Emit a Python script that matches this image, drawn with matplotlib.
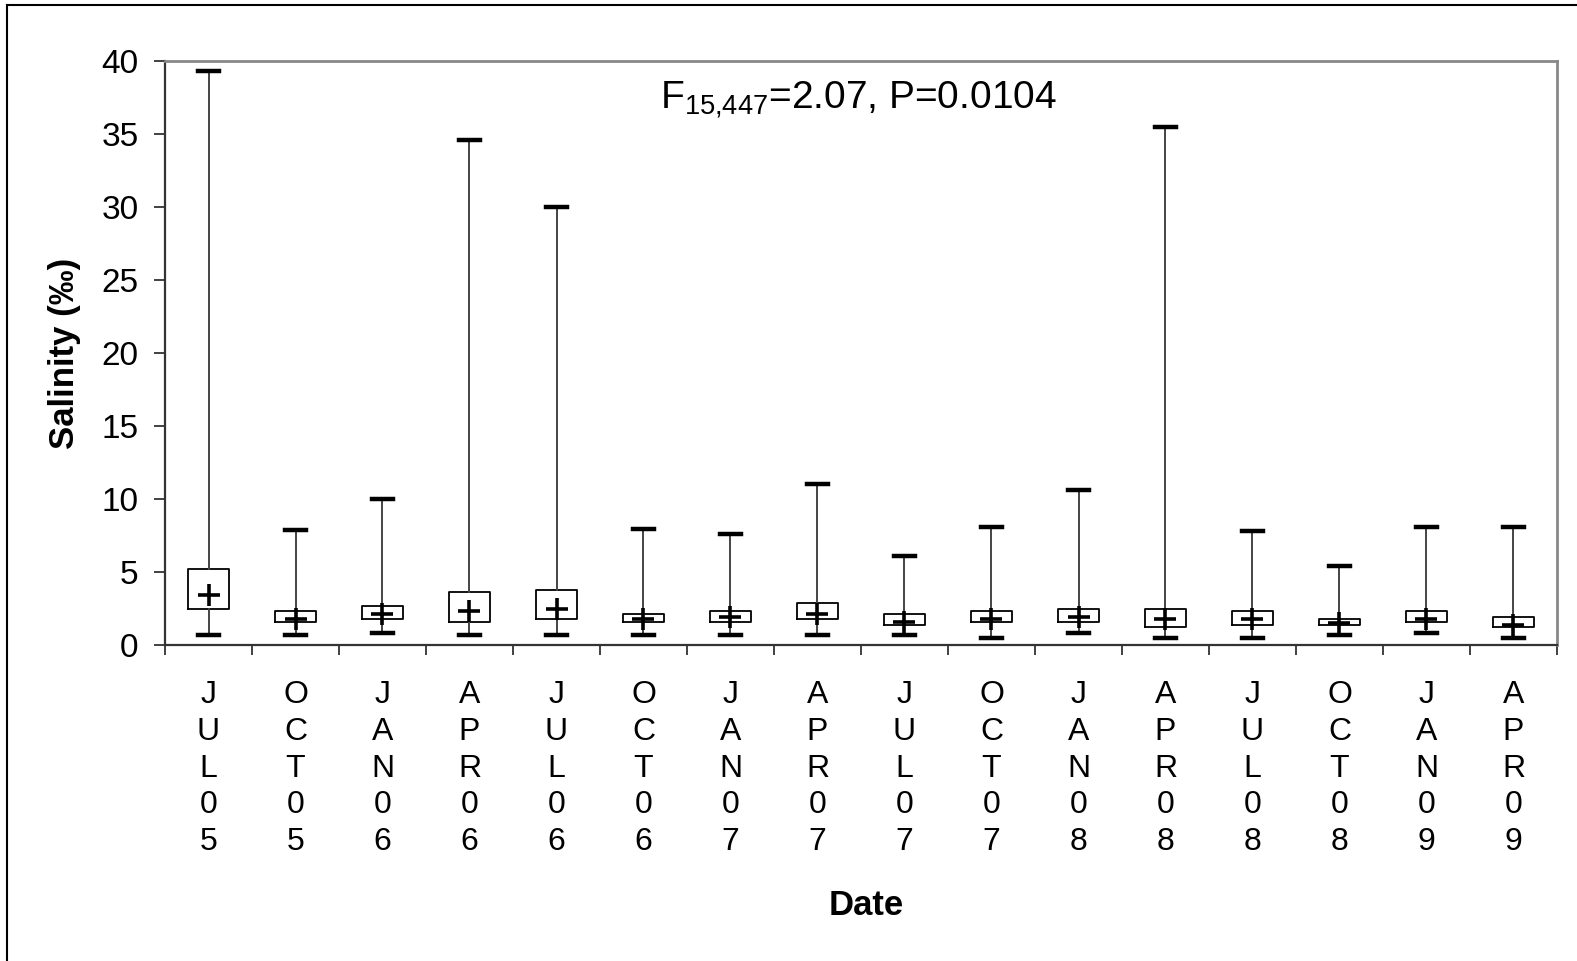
import matplotlib
matplotlib.use("Agg")
import matplotlib.pyplot as plt
from matplotlib.lines import Line2D

plt.rcParams['font.family'] = ['Liberation Sans', 'DejaVu Sans']
plt.rcParams['mathtext.fontset'] = 'custom'
plt.rcParams['mathtext.rm'] = 'Liberation Sans'

# sampling dates
dates = ['JUL05', 'OCT05', 'JAN06', 'APR06', 'JUL06', 'OCT06', 'JAN07', 'APR07',
         'JUL07', 'OCT07', 'JAN08', 'APR08', 'JUL08', 'OCT08', 'JAN09', 'APR09']

# salinity summary per date
sal_max = [39.3, 7.9, 10.0, 34.6, 30.0, 7.95, 7.6, 11.0,
           6.1, 8.1, 10.65, 35.5, 7.8, 5.4, 8.1, 8.1]
sal_q3 = [5.2, 2.3, 2.65, 3.6, 3.75, 2.15, 2.3, 2.85,
          2.15, 2.3, 2.5, 2.5, 2.3, 1.75, 2.3, 1.95]
sal_mean = [3.4, 1.8, 2.15, 2.3, 2.5, 1.8, 1.95, 2.15,
            1.6, 1.8, 1.95, 1.75, 1.75, 1.5, 1.75, 1.4]
sal_q1 = [2.5, 1.6, 1.75, 1.6, 1.75, 1.6, 1.6, 1.75,
          1.4, 1.6, 1.6, 1.2, 1.4, 1.4, 1.6, 1.2]
sal_min = [0.7, 0.7, 0.85, 0.7, 0.7, 0.7, 0.7, 0.7,
           0.7, 0.5, 0.85, 0.5, 0.5, 0.7, 0.85, 0.5]

stats = []
for i in range(len(dates)):
    stats.append({'whislo': sal_min[i], 'q1': sal_q1[i], 'med': sal_mean[i],
                  'q3': sal_q3[i], 'whishi': sal_max[i], 'mean': sal_mean[i],
                  'fliers': []})

fig = plt.figure(figsize=(15.77, 9.61), dpi=100)
ax = fig.add_axes([165 / 1577, 1 - 645 / 961, 1392 / 1577, 584 / 961])

pos = list(range(1, len(dates) + 1))
ax.bxp(stats, positions=pos, widths=0.46, capwidths=0.24, showmeans=True,
       boxprops=dict(color='black', linewidth=1.3),
       whiskerprops=dict(color='#444444', linewidth=1.4),
       capprops=dict(color='black', linewidth=3.2),
       medianprops=dict(linewidth=0),
       meanprops=dict(marker='+', markersize=16, markeredgewidth=2.6,
                      markeredgecolor='black'))

ax.set_xlim(0.5, len(dates) + 0.5)
ax.set_ylim(0, 40)
ax.set_yticks(range(0, 41, 5))
ax.tick_params(axis='y', labelsize=24, length=8, width=1.3, pad=11, color='#333333')

ax.set_xticks(pos)
ax.set_xticklabels(["\n".join(d) for d in dates], fontsize=23, linespacing=1.3)
ax.tick_params(axis='x', which='major', length=0, pad=25)
ax.set_xticks([p + 0.5 for p in range(0, len(dates) + 1)], minor=True)
ax.tick_params(axis='x', which='minor', length=7, width=1.3, color='#333333')

for s in ['left', 'bottom']:
    ax.spines[s].set_color('#333333')
    ax.spines[s].set_linewidth(1.6)
for s in ['top', 'right']:
    ax.spines[s].set_color('#888888')
    ax.spines[s].set_linewidth(2)

ax.set_ylabel('Salinity (‰)', fontsize=25, fontweight='bold')
ax.yaxis.set_label_coords(-0.060, 0.5)
ax.set_xlabel('Date', fontsize=25, fontweight='bold')
ax.xaxis.set_label_coords(0.504, -0.418)

ax.text(0.498, 0.934, r'F$_{15{,}447}$=2.07, P=0.0104', transform=ax.transAxes,
        ha='center', va='center', fontsize=28)

# outer frame (left and top edges visible)
fig.add_artist(Line2D([7 / 1577, 7 / 1577], [0, 1 - 5 / 961], transform=fig.transFigure,
                      color='black', linewidth=1.5))
fig.add_artist(Line2D([7 / 1577, 1], [1 - 5 / 961, 1 - 5 / 961], transform=fig.transFigure,
                      color='black', linewidth=1.5))

fig.savefig('out.png', dpi=100)
